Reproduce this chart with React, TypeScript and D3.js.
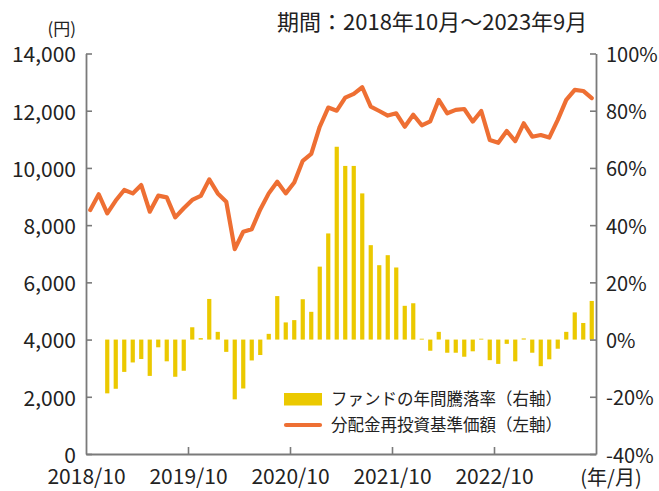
import React, { useEffect, useRef } from "react";
import * as d3 from "d3";

// 2018/10 - 2023/9, one entry per month
const months: Date[] = d3.timeMonth.range(new Date(2018, 9, 1), new Date(2023, 9, 1));

// 分配金再投資基準価額 (円)
const navValues = [
  8530, 9080, 8410, 8860, 9230, 9110, 9400, 8470, 9030, 8970, 8270, 8590,
  8880, 9020, 9600, 9110, 8820, 7160, 7770, 7860, 8550, 9110, 9520, 9110,
  9490, 10250, 10490, 11440, 12110, 12000, 12460, 12590, 12820, 12140, 11990, 11830,
  11910, 11440, 11860, 11490, 11630, 12380, 11910, 12030, 12060, 11620, 11990, 10980,
  10880, 11290, 10940, 11560, 11090, 11150, 11060, 11680, 12380, 12730, 12690, 12440,
];

// ファンドの年間騰落率 (%)
const returnValues: (number | null)[] = [
  null, null, -18.8, -17.2, -11.3, -8.0, -6.8, -12.7, -2.7, -7.6, -13.0, -10.9,
  4.3, 0.5, 14.2, 2.7, -4.3, -20.9, -17.1, -7.3, -5.4, 2.0, 15.2, 6.0,
  6.8, 14.1, 9.7, 25.5, 37.1, 67.4, 60.7, 60.7, 51.1, 33.0, 26.0, 29.5,
  25.2, 11.8, 12.7, 0.3, -3.9, 2.7, -4.6, -4.6, -6.0, -4.1, 0.3, -7.2,
  -8.5, -1.5, -7.6, 0.4, -4.6, -9.3, -6.9, -3.2, 2.7, 9.5, 5.8, 13.5,
];

const leftTicks = [0, 2000, 4000, 6000, 8000, 10000, 12000, 14000];
const rightTicks = [-40, -20, 0, 20, 40, 60, 80, 100];
const xTickLabels = ["2018/10", "2019/10", "2020/10", "2021/10", "2022/10"];
const legendLabels = ["ファンドの年間騰落率（右軸）", "分配金再投資基準価額（左軸）"];
const periodTitle = "期間：2018年10月～2023年9月";

const FONT = "'Noto Sans CJK JP', 'Noto Sans', sans-serif";
const BAR_COLOR = "#ebc900";
const LINE_COLOR = "#ee6f33";
const AXIS_COLOR = "#7a7a7a";
const TEXT_COLOR = "#222";

export default function App() {
  const svgRef = useRef<SVGSVGElement>(null);

  useEffect(() => {
    const width = 659;
    const height = 491;
    const left = 86, right = 596, top = 53.5, bottom = 454;

    const svg = d3.select(svgRef.current)
      .attr("width", width)
      .attr("height", height);
    svg.selectAll("*").remove();

    const x = d3.scaleBand<number>()
      .domain(months.map((_, i) => i))
      .range([left, right]);
    const cx = (i: number) => (x(i) as number) + x.bandwidth() / 2;

    const yLeft = d3.scaleLinear().domain([0, 14000]).range([bottom, top]);
    const yRight = d3.scaleLinear().domain([-40, 100]).range([bottom, top]);

    // bars
    const barW = 4.2;
    svg.append("g")
      .attr("fill", BAR_COLOR)
      .selectAll("rect")
      .data(returnValues.map((v, i) => ({ v, i })).filter(d => d.v !== null))
      .enter().append("rect")
      .attr("x", d => cx(d.i) - barW / 2)
      .attr("y", d => yRight(Math.max(0, d.v as number)))
      .attr("width", barW)
      .attr("height", d => Math.max(0.8, Math.abs(yRight(d.v as number) - yRight(0))));

    // line
    svg.append("path")
      .datum(navValues)
      .attr("fill", "none")
      .attr("stroke", LINE_COLOR)
      .attr("stroke-width", 4.2)
      .attr("stroke-linejoin", "round")
      .attr("stroke-linecap", "round")
      .attr("d", d3.line<number>()
        .x((_, i) => cx(i))
        .y(d => yLeft(d)));

    // left axis
    const gl = svg.append("g")
      .attr("transform", `translate(${left},0)`)
      .call(d3.axisLeft(yLeft).tickValues(leftTicks).tickSize(-6).tickSizeOuter(0).tickPadding(10)
        .tickFormat(d => d3.format(",")(d as number)));

    // right axis
    const gr = svg.append("g")
      .attr("transform", `translate(${right},0)`)
      .call(d3.axisRight(yRight).tickValues(rightTicks).tickSize(-6).tickSizeOuter(0).tickPadding(10)
        .tickFormat(d => `${d}%`));

    // bottom axis
    const xTicks = months.map((m, i) => ({ m, i })).filter(d => d.m.getMonth() === 9);
    const gb = svg.append("g")
      .attr("transform", `translate(0,${bottom})`)
      .call(d3.axisBottom(d3.scaleLinear().domain([left, right]).range([left, right]))
        .tickValues(xTicks.map(d => x(d.i) as number))
        .tickSize(-7).tickSizeOuter(0).tickPadding(12)
        .tickFormat((_, k) => xTickLabels[k]));

    [gl, gr, gb].forEach(g => {
      g.select(".domain").attr("stroke", AXIS_COLOR).attr("stroke-width", 1.8);
      g.selectAll(".tick line").attr("stroke", AXIS_COLOR).attr("stroke-width", 1.6);
      g.selectAll(".tick text")
        .attr("fill", TEXT_COLOR)
        .style("font-family", FONT)
        .style("font-size", "20px");
    });
    gl.selectAll(".tick text").style("font-size", "21px").attr("dy", "0.4em");
    gr.selectAll(".tick text").attr("dy", "0.4em");
    gb.selectAll(".tick text").style("font-size", "21px").attr("dy", "0.86em");
    // the first x tick coincides with the left axis
    gb.selectAll(".tick line").filter((_, k) => k === 0).remove();

    // unit labels
    svg.append("text")
      .attr("x", 76).attr("y", 35)
      .attr("text-anchor", "end")
      .attr("fill", TEXT_COLOR)
      .style("font-family", FONT).style("font-size", "17px")
      .text("(円)");
    svg.append("text")
      .attr("x", 611).attr("y", 485)
      .attr("text-anchor", "middle")
      .attr("fill", TEXT_COLOR)
      .style("font-family", FONT).style("font-size", "20px")
      .text("(年/月)");

    // period title
    svg.append("text")
      .attr("x", 277).attr("y", 30)
      .attr("fill", TEXT_COLOR)
      .style("font-family", FONT).style("font-size", "22px")
      .text(periodTitle);

    // legend
    const lg = svg.append("g").attr("transform", "translate(284,399)");
    lg.append("rect")
      .attr("x", 0).attr("y", -6).attr("width", 38).attr("height", 12.5)
      .attr("fill", BAR_COLOR);
    lg.append("line")
      .attr("x1", 2).attr("x2", 36).attr("y1", 26).attr("y2", 26)
      .attr("stroke", LINE_COLOR).attr("stroke-width", 4.2).attr("stroke-linecap", "round");
    legendLabels.forEach((t, k) => {
      lg.append("text")
        .attr("x", 47).attr("y", k * 26 + 6)
        .attr("fill", TEXT_COLOR)
        .style("font-family", FONT).style("font-size", "16.5px")
        .text(t);
    });
  }, []);

  return (
    <svg ref={svgRef} style={{ position: "absolute", left: 0, top: 0, background: "#fff" }}></svg>
  );
}
